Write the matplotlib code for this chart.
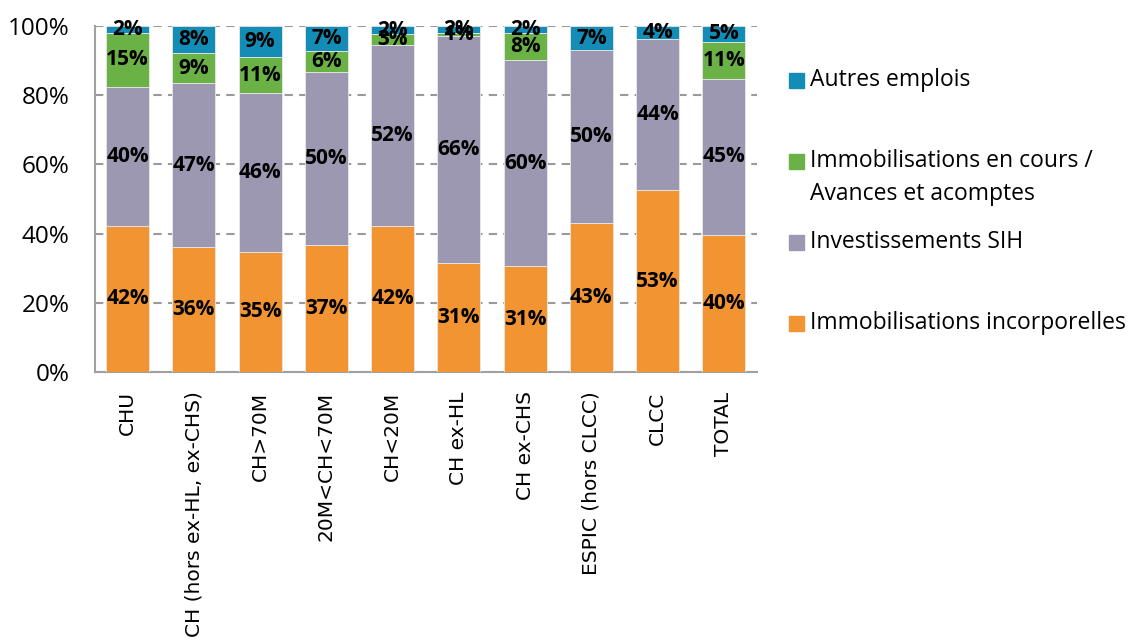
import numpy as np
import matplotlib.pyplot as plt
from matplotlib.patches import Rectangle

categories = ["CHU", "CH (hors ex-HL, ex-CHS)", "CH>70M", "20M<CH<70M", "CH<20M",
              "CH ex-HL", "CH ex-CHS", "ESPIC (hors CLCC)", "CLCC", "TOTAL"]

# parts en %
incorporelles = [42.3, 36.1, 34.7, 36.7, 42.3, 31.4, 30.6, 43.0, 52.6, 39.6]
sih = [40.2, 47.4, 45.8, 50.0, 52.3, 65.7, 59.6, 50.0, 43.6, 45.2]
en_cours = [15.4, 8.7, 10.6, 6.0, 3.0, 0.8, 7.8, 0.0, 0.0, 10.6]
autres = [2.1, 7.8, 8.9, 7.3, 2.4, 2.1, 2.0, 7.0, 3.8, 4.6]

series = [
    ("Immobilisations incorporelles", incorporelles, "#F29431"),
    ("Investissements SIH", sih, "#9D98B1"),
    ("Immobilisations en cours /\nAvances et acomptes", en_cours, "#6AB146"),
    ("Autres emplois", autres, "#138DB6"),
]

POLICE = "Open Sans"

W, H = 1133, 644
fig = plt.figure(figsize=(W / 100, H / 100), dpi=100)
ax = fig.add_axes([94.5 / W, 1 - 372 / H, (757 - 94.5) / W, (372 - 26) / H])

x = np.arange(len(categories))
bottom = np.zeros(len(categories))
for nom, vals, couleur in series:
    vals = np.array(vals)
    ax.bar(x, vals, 0.65, bottom=bottom, color=couleur, edgecolor="#e8e8e8",
           linewidth=0.6, zorder=3)
    for xi, b, v in zip(x, bottom, vals):
        if v > 0:
            ax.text(xi, b + v / 2, f"{v:.0f}%", ha="center", va="center",
                    fontsize=15, fontweight="bold", family=POLICE, zorder=4)
    bottom += vals

ax.set_xlim(-0.5, len(categories) - 0.5)
ax.set_ylim(0, 100)
ax.set_yticks([0, 20, 40, 60, 80, 100])
ax.set_yticklabels([f"{v}%" for v in [0, 20, 40, 60, 80, 100]],
                   family=POLICE, fontsize=17.5)
ax.set_xticks(x)
ax.set_xticklabels(categories, rotation=90, fontsize=14.5, family="DejaVu Sans")
ax.tick_params(axis="both", length=0)
ax.tick_params(axis="y", pad=18)
ax.tick_params(axis="x", pad=14)

ax.yaxis.grid(True, color="#9a9a9a", linestyle=(0, (4, 3)), linewidth=1.5, zorder=0)
ax.set_axisbelow(True)
for s in ["top", "right"]:
    ax.spines[s].set_visible(False)
for s in ["left", "bottom"]:
    ax.spines[s].set_color("#a0a0a0")
    ax.spines[s].set_linewidth(1.5)

# légende manuelle (ordre inversé, comme Excel)
y0 = 80
for i, (nom, vals, couleur) in enumerate(series[::-1]):
    yc = y0 + 81 * i
    fig.patches.append(Rectangle((789 / W, 1 - (yc + 7.5) / H), 15 / W, 15 / H,
                                 color=couleur, transform=fig.transFigure))
    for k, ligne in enumerate(nom.split("\n")):
        fig.text(810 / W, 1 - (yc + 33 * k) / H, ligne, family=POLICE,
                 fontsize=16.5, va="center")

fig.savefig("out.png", dpi=100)
